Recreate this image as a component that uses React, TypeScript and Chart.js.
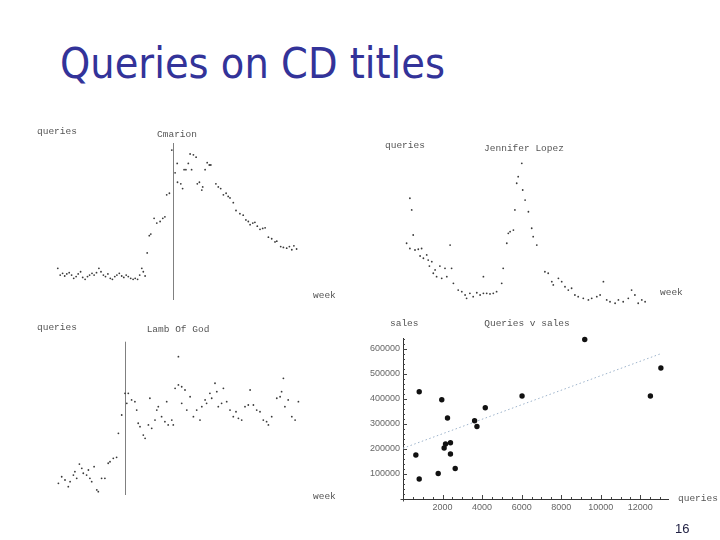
import React, { useEffect, useRef } from "react";
import { Chart, registerables } from "chart.js";

Chart.register(...registerables);

// ---------- Data ----------
// Panel 1: "Cmarion" — weekly queries around release (week 0)
const cmarionWeeks = [
  -38.3, -37.5, -36.7, -36, -35.3, -34.5, -33.7, -33, -32.2, -31.5, -30.7, -30, -29.2, -28.4, -27.7, -26.9,
  -26.2, -25.4, -24.6, -23.9, -23.1, -22.4, -21.6, -20.8, -20.1, -19.3, -18.6, -17.8, -17, -16.3, -15.5, -14.8,
  -14, -13.2, -12.5, -11.7, -11, -10.3, -9.8, -9.2,
  -8.5, -7.8, -7.3, -6.2, -5.3, -4.2, -3.3, -2.6, -2, -1.1, -0.3,
  0.8, 1.5, 1.6, 2.7, 3.3, 3.8, 4.4, 5.2, 5.8, 6.3, 6.9, 7.8, 8.2, 8.9, 9.7, 10, 10.8, 11.5, 12.2, 12.7,
  14.4, 15.2, 16, 16.9, 17.8, 18.5, 19.1, 20.2, 21.1, 22.4, 23.5, 24.4, 25.2, 25.8, 26.7, 27.4, 28.2, 29.1,
  30, 30.8, 31.9, 33, 34.1, 34.7, 36, 36.9, 38, 38.9, 39.7, 40.4, 41.3,
];
const cmarionQueries = [
  20.2, 15.9, 17, 15.3, 16.6, 17.4, 15.9, 13.8, 14.9, 16.6, 18, 14.4, 13.2, 14.9, 15.9, 17,
  15.9, 17.4, 20.2, 18, 15.9, 14.9, 16.6, 13.8, 13.2, 14.9, 15.9, 17, 15.3, 14.4, 15.9, 14.9,
  13.8, 13.2, 13.8, 13.2, 15.9, 20.2, 18, 15.3,
  30, 41, 42, 52, 49, 50, 52, 53, 67, 68, 95.5,
  81, 87, 75, 74, 71, 83, 83, 87, 93, 83, 92.5, 91, 74, 75, 70, 72, 83, 87.5, 86, 86,
  74, 72, 71, 67, 68, 66, 65, 62, 57, 55, 54, 51, 50, 48, 49, 49.5, 47, 45,
  45.6, 46, 40, 39, 37, 37.5, 34, 33.5, 33, 34, 32, 34.5, 32.5,
];

// Panel 2: "Jennifer Lopez"
const lopezWeeks = [
  0.2, 1.3, 1.3, 1.9, 2.4, 3, 4.1, 4.7, 5.2, 5.8, 6.9, 7.4, 7.8, 8.6, 9.1, 9.7, 10.2, 11.3, 11.9, 13, 13.6,
  14.7, 15.2, 15.8, 17.4, 18.6, 19.7, 20.2, 21.3, 22.4, 23.6, 24.7, 25.8, 25.8, 26.9, 28, 29.1, 30.2, 31.9,
  32.4, 33.6, 34.1, 34.7, 35.8, 36.3, 36.9, 37.4, 38.6, 38.9, 39.7, 40.8, 41.9, 42.4, 43.6, 46.3, 47.4, 48.6,
  49.1, 50.8, 51.9, 53, 54.1, 55.2, 56.3, 57.4, 59.1, 60.8, 61.9, 63.6, 64.7, 65.8, 66.9, 68, 69.7, 70.8,
  72.4, 74.1, 75.2, 76.3, 77.4, 78.6, 79.7,
];
const lopezQueries = [
  44.5, 74.5, 41, 66.7, 50, 40, 40.5, 36, 41, 34.5, 36.7, 33.3, 29.3, 32.2, 24.5, 26.7, 22.2, 29.3, 21.1, 27.8, 22.2,
  43.3, 27.8, 17.8, 13.3, 12.2, 10, 7.8, 11.1, 8.9, 11.5, 10, 11.1, 22.2, 11.1, 10.7, 11.1, 12.2, 17.8,
  27.8, 44.5, 51.1, 52.2, 53.3, 66.7, 84.5, 88.9, 97.8, 80, 73.3, 65.5, 54.5, 48.9, 43.3, 25.5, 24.5, 18.9,
  16.7, 21.1, 18.9, 15.5, 13.3, 14.5, 10, 8.9, 7.8, 6.7, 7.8, 8.9, 10, 18.9, 6.7, 5.5, 4.5, 6.7,
  5.5, 7.8, 13.3, 10, 4.5, 6.7, 5.5,
];

// Panel 3: "Lamb Of God" — weekly queries around release (week 0)
const lambWeeks = [
  -22.2, -21.1, -20, -18.9, -18.3, -17.2, -16.7, -16.1, -15.2, -14.4, -13.9, -12.8, -12.2, -11.7, -11.1, -10.3,
  -9.4, -8.9, -7.8, -6.7, -5.6, -5, -3.9, -2.8, -2.2, -1.1,
  0, 0.6, 1.1, 2.2, 3.3, 3.9, 4.4, 5, 6.1, 6.7, 7.8, 8.3, 8.9, 10, 10.6, 11.1, 12.2, 13.3, 13.9, 14.4, 15.6,
  16.1, 16.7, 17.8, 17.8, 18.9, 20, 18.9, 20.6, 21.7, 22.8, 23.9, 25, 25.6, 26.7, 27.2, 28.3, 28.9, 30, 30.6,
  31.1, 32.2, 32.8, 33.9, 35, 36.1, 37, 37.8, 38.9, 40, 41.1, 41.7, 42.8, 43.9, 45, 46.1, 47.2, 47.8, 48.9,
  50.6, 51.7, 52.2, 52.8, 53.3, 54.4, 55.6, 56.7, 57.8,
];
const lambQueries = [
  7.6, 11.9, 9.8, 5.4, 8.7, 13, 15.2, 10.9, 20.2, 17.4, 14.2, 13, 16.3, 10.9, 8.7, 18.5,
  3.3, 2.2, 10.9, 10.9, 20.7, 21.7, 23.9, 24.6, 40.2, 52.2,
  66.3, 59.8, 66.3, 62, 60.9, 55.4, 46.8, 44.6, 39.1, 37, 45.7, 63.1, 43.5, 48.9, 55.4, 57.6, 51.1, 47.8, 60.9, 45.7, 48.9,
  45.7, 69.6, 71.8, 90.2, 70.6, 68.5, 59.8, 55.4, 64.1, 51.1, 55.4, 48.9, 57.6, 62, 59.8, 66.3, 63.1, 72.9, 67.4,
  57.6, 59.8, 69.6, 60.9, 55.4, 51.1, 54.3, 50, 48.9, 57.6, 58.7, 68.5, 58.7, 55.4, 54.3, 48.9, 47.8, 45.7, 51.1,
  63.1, 64.1, 67.4, 76.1, 57.6, 62, 51.1, 48.9, 60.9,
];

// Panel 4: "Queries v sales"
const titleQueries = [820, 650, 820, 1780, 1960, 2080, 2150, 2250, 2400, 2400, 2640, 3620, 3740, 4160, 6020, 9190, 12510, 13040];
const titleSales = [429000, 176000, 80000, 102000, 397000, 204000, 220000, 324000, 225000, 180000, 122000, 313000, 290000, 365000, 412000, 638000, 412000, 524000];
const fitQueries = [0, 13100];
const fitSales = [203000, 583000];
const queryTicks = [2000, 4000, 6000, 8000, 10000, 12000];
const salesTicks = [100000, 200000, 300000, 400000, 500000, 600000];

// ---------- Helpers ----------
type Rect = { left: number; top: number; width: number; height: number };
type Label = { text: string; x: number; y: number; align: CanvasTextAlign };

const LABEL_FONT = '9.5px "Liberation Mono", "DejaVu Sans Mono", monospace';

function labelsPlugin(labels: Label[], rect: Rect) {
  return {
    id: "panelLabels",
    afterDraw(chart: any) {
      const ctx = chart.ctx;
      ctx.save();
      ctx.font = LABEL_FONT;
      ctx.fillStyle = "#555";
      ctx.textBaseline = "middle";
      for (const l of labels) {
        ctx.textAlign = l.align;
        ctx.fillText(l.text, l.x - rect.left, l.y - rect.top);
      }
      ctx.restore();
    },
  };
}

const releaseAxisPlugin = {
  id: "releaseAxis",
  beforeDatasetsDraw(chart: any) {
    const { ctx, chartArea } = chart;
    const x = Math.round(chart.scales.x.getPixelForValue(0)) + 0.5;
    ctx.save();
    ctx.strokeStyle = "#808080";
    ctx.lineWidth = 1;
    ctx.beginPath();
    ctx.moveTo(x, chartArea.top);
    ctx.lineTo(x, chartArea.bottom);
    ctx.stroke();
    ctx.restore();
  },
};

const innerTicksPlugin = {
  id: "innerTicks",
  afterDraw(chart: any) {
    const { ctx, chartArea } = chart;
    const xs = chart.scales.x;
    const ys = chart.scales.y;
    ctx.save();
    ctx.strokeStyle = "#444";
    ctx.lineWidth = 1;
    ctx.beginPath();
    // small overhang of the axes past their crossing point
    const bx = Math.round(chartArea.bottom) + 0.5;
    const lx = Math.round(chartArea.left) + 0.5;
    ctx.moveTo(lx - 3, bx);
    ctx.lineTo(lx, bx);
    ctx.moveTo(lx, bx);
    ctx.lineTo(lx, bx + 2);
    for (let v = 500; v <= xs.max; v += 500) {
      const len = v % 2000 === 0 ? 4 : 2;
      const px = Math.round(xs.getPixelForValue(v)) + 0.5;
      ctx.moveTo(px, chartArea.bottom);
      ctx.lineTo(px, chartArea.bottom - len);
    }
    for (let v = 20000; v <= ys.max; v += 20000) {
      const len = v % 100000 === 0 ? 4 : 2;
      const py = Math.round(ys.getPixelForValue(v)) + 0.5;
      ctx.moveTo(chartArea.left, py);
      ctx.lineTo(chartArea.left + len, py);
    }
    ctx.stroke();
    ctx.restore();
  },
};

function toPoints(xs: number[], ys: number[]) {
  return xs.map((x, i) => ({ x, y: ys[i] }));
}

function ChartCanvas({ rect, build }: { rect: Rect; build: () => any }) {
  const ref = useRef<HTMLCanvasElement | null>(null);
  useEffect(() => {
    if (!ref.current) return;
    const chart = new Chart(ref.current, build());
    return () => chart.destroy();
  }, []);
  return (
    <canvas
      ref={ref}
      width={rect.width}
      height={rect.height}
      style={{
        position: "absolute",
        left: rect.left,
        top: rect.top,
        width: rect.width,
        height: rect.height,
      }}
    />
  );
}

function seriesConfig(
  xs: number[],
  ys: number[],
  rect: Rect,
  xMin: number,
  xMax: number,
  padding: { left: number; right: number; top: number; bottom: number },
  labels: Label[],
  withAxis: boolean
) {
  return () => ({
    type: "scatter",
    data: {
      datasets: [
        {
          data: toPoints(xs, ys),
          pointRadius: 0.9,
          pointBackgroundColor: "#3a3a3a",
          pointBorderWidth: 0,
          clip: false,
        },
      ],
    },
    options: {
      animation: false,
      responsive: false,
      devicePixelRatio: 1,
      events: [],
      layout: { padding },
      plugins: { legend: { display: false }, tooltip: { enabled: false }, title: { display: false } },
      scales: {
        x: { type: "linear", display: false, min: xMin, max: xMax },
        y: { type: "linear", display: false, min: 0, max: 100 },
      },
    },
    plugins: withAxis ? [labelsPlugin(labels, rect), releaseAxisPlugin] : [labelsPlugin(labels, rect)],
  });
}

// ---------- Panels ----------
const rect1: Rect = { left: 30, top: 115, width: 320, height: 195 };
const rect2: Rect = { left: 370, top: 130, width: 350, height: 185 };
const rect3: Rect = { left: 30, top: 312, width: 320, height: 193 };
const rect4: Rect = { left: 350, top: 312, width: 370, height: 213 };

const build1 = seriesConfig(
  cmarionWeeks,
  cmarionQueries,
  rect1,
  -40,
  42,
  { left: 22.7, right: 51.3, top: 28, bottom: 10 },
  [
    { text: "queries", x: 37, y: 131, align: "left" },
    { text: "Cmarion", x: 177, y: 134, align: "center" },
    { text: "week", x: 313, y: 295, align: "left" },
  ],
  true
);

const build2 = seriesConfig(
  lopezWeeks,
  lopezQueries,
  rect2,
  0,
  80,
  { left: 36, right: 74, top: 30, bottom: 5 },
  [
    { text: "queries", x: 385, y: 145, align: "left" },
    { text: "Jennifer Lopez", x: 524, y: 148, align: "center" },
    { text: "week", x: 660, y: 292.5, align: "left" },
  ],
  false
);

const build3 = seriesConfig(
  lambWeeks,
  lambQueries,
  rect3,
  -24,
  60,
  { left: 23, right: 45, top: 29.7, bottom: 10 },
  [
    { text: "queries", x: 37, y: 327, align: "left" },
    { text: "Lamb Of God", x: 178, y: 329, align: "center" },
    { text: "week", x: 313, y: 496.5, align: "left" },
  ],
  true
);

const build4 = () => ({
  type: "scatter",
  data: {
    datasets: [
      {
        data: toPoints(titleQueries, titleSales),
        pointRadius: 2.7,
        pointBackgroundColor: "#111",
        pointBorderWidth: 0,
        clip: false,
      },
      {
        data: toPoints(fitQueries, fitSales),
        showLine: true,
        borderColor: "#9db3cb",
        borderWidth: 1,
        borderDash: [1.5, 2.5],
        pointRadius: 0,
        fill: false,
      },
    ],
  },
  options: {
    animation: false,
    responsive: false,
    devicePixelRatio: 1,
    events: [],
    layout: { padding: { left: 0, right: 52, top: 26, bottom: 0 } },
    plugins: { legend: { display: false }, tooltip: { enabled: false } },
    scales: {
      x: {
        type: "linear",
        min: 0,
        max: 13400,
        border: { display: true, color: "#333", width: 1 },
        grid: { display: false, drawTicks: false },
        afterBuildTicks: (s: any) => {
          s.ticks = queryTicks.map((v) => ({ value: v }));
        },
        ticks: {
          padding: 3,
          color: "#666",
          autoSkip: false,
          maxRotation: 0,
          font: { family: "Liberation Sans", size: 9 },
          callback: (v: any) => String(v),
        },
        afterFit: (s: any) => {
          s.height = 26;
        },
      },
      y: {
        type: "linear",
        min: 0,
        max: 644000,
        border: { display: true, color: "#333", width: 1 },
        grid: { display: false, drawTicks: false },
        afterBuildTicks: (s: any) => {
          s.ticks = salesTicks.map((v) => ({ value: v }));
        },
        ticks: {
          padding: 3,
          color: "#666",
          autoSkip: false,
          font: { family: "Liberation Sans", size: 9 },
          callback: (v: any) => String(v),
        },
        afterFit: (s: any) => {
          s.width = 53;
        },
      },
    },
  },
  plugins: [
    innerTicksPlugin,
    labelsPlugin(
      [
        { text: "sales", x: 390, y: 323, align: "left" },
        { text: "Queries v sales", x: 527, y: 323, align: "center" },
        { text: "queries", x: 678, y: 498, align: "left" },
      ],
      rect4
    ),
  ],
});

export default function App() {
  return (
    <div
      style={{
        position: "absolute",
        left: 0,
        top: 0,
        width: 720,
        height: 540,
        background: "#fff",
        overflow: "hidden",
      }}
    >
      <div
        style={{
          position: "absolute",
          left: 59.5,
          top: 41.6,
          fontFamily: '"DejaVu Sans", Verdana, sans-serif',
          fontSize: 43,
          lineHeight: "43px",
          color: "#333399",
          whiteSpace: "nowrap",
          transform: "scaleX(0.895)",
          transformOrigin: "left top",
        }}
      >
        Queries on CD titles
      </div>
      <ChartCanvas rect={rect1} build={build1} />
      <ChartCanvas rect={rect2} build={build2} />
      <ChartCanvas rect={rect3} build={build3} />
      <ChartCanvas rect={rect4} build={build4} />
      <div
        style={{
          position: "absolute",
          left: 675,
          top: 522,
          fontFamily: '"Liberation Sans", Arial, sans-serif',
          fontSize: 13,
          lineHeight: "13px",
          color: "#222244",
        }}
      >
        16
      </div>
    </div>
  );
}
